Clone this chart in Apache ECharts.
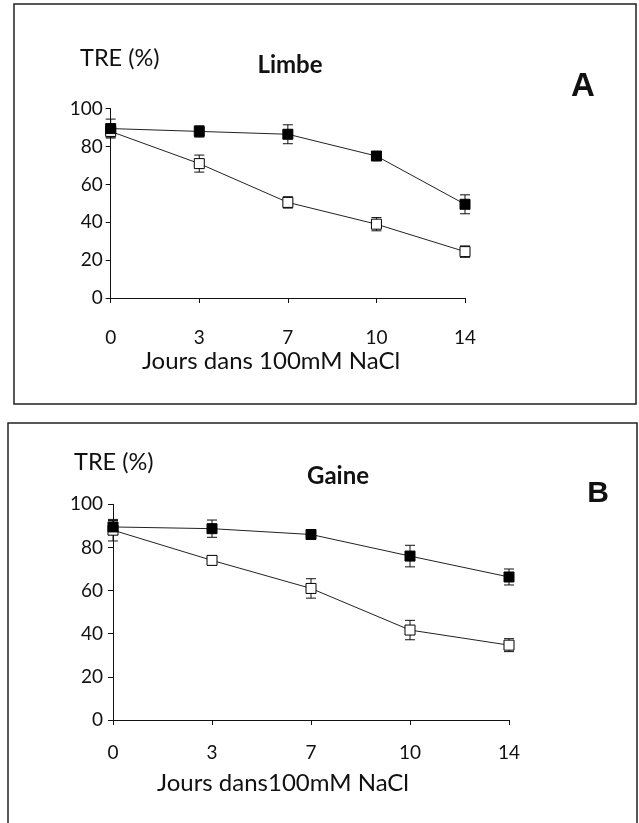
<!DOCTYPE html>
<html>
<head>
<meta charset="utf-8">
<style>
  * { margin: 0; padding: 0; }
  body { background: #ffffff; }
  #chart { width: 639px; height: 823px; }
</style>
</head>
<body>
<div id="chart"></div>
<script src="https://cdn.jsdelivr.net/npm/echarts@6/dist/echarts.min.js"></script>
<script>
// jours de traitement (catégories)
var jours = ['0', '3', '7', '10', '14'];
var yTicks = [0, 20, 40, 60, 80, 100];

// A - Limbe
var limbeNoir = [89.5, 88, 86.5, 75, 49.5];
var limbeNoirErr = [5, 3, 5, 2, 5];
var limbeBlanc = [88, 71, 50.5, 39, 24.5];
var limbeBlancErr = [3, 4.5, 3, 3.5, 3];

// B - Gaine
var gaineNoir = [89.5, 88.7, 86, 76, 66.3];
var gaineNoirErr = [3, 4, 1.5, 5, 3.7];
var gaineBlanc = [88, 74, 61, 41.7, 34.7];
var gaineBlancErr = [5, 2, 4.5, 4.5, 3];

var FONT = 'Lato';
var INK = '#111111';

var chart = echarts.init(document.getElementById('chart'));

// barres d'erreur symétriques
function errData(vals, errs) {
  return vals.map(function (v, i) { return [i, v - errs[i], v + errs[i]]; });
}

function errSeries(idx, vals, errs) {
  return {
    type: 'custom',
    xAxisIndex: idx,
    yAxisIndex: idx,
    z: 1,
    silent: true,
    data: errData(vals, errs),
    renderItem: function (params, api) {
      var lo = api.coord([api.value(0), api.value(1)]);
      var hi = api.coord([api.value(0), api.value(2)]);
      var w = 5;
      var st = { stroke: INK, lineWidth: 1 };
      return {
        type: 'group',
        children: [
          { type: 'line', shape: { x1: lo[0], y1: lo[1], x2: hi[0], y2: hi[1] }, style: st },
          { type: 'line', shape: { x1: lo[0] - w, y1: lo[1], x2: lo[0] + w, y2: lo[1] }, style: st },
          { type: 'line', shape: { x1: hi[0] - w, y1: hi[1], x2: hi[0] + w, y2: hi[1] }, style: st }
        ]
      };
    }
  };
}

function lineSeries(idx, vals, filled) {
  return {
    type: 'line',
    xAxisIndex: idx,
    yAxisIndex: idx,
    z: 3,
    data: vals,
    symbol: 'rect',
    symbolSize: 10,
    showAllSymbol: true,
    lineStyle: { color: '#222222', width: 1 },
    itemStyle: filled
      ? { color: '#000000', borderColor: '#000000', borderWidth: 1 }
      : { color: '#ffffff', borderColor: '#000000', borderWidth: 1 },
    emphasis: { disabled: true },
    animation: false
  };
}

function xAxis(idx, margin) {
  return {
    type: 'category',
    gridIndex: idx,
    data: jours,
    boundaryGap: false,
    axisLine: { lineStyle: { color: INK, width: 1 } },
    axisTick: { show: true, inside: false, length: 5, alignWithLabel: true, lineStyle: { color: INK } },
    axisLabel: { color: INK, fontFamily: FONT, fontSize: 19, margin: margin },
    splitLine: { show: false }
  };
}

function yAxis(idx, margin) {
  return {
    type: 'value',
    gridIndex: idx,
    min: yTicks[0],
    max: yTicks[yTicks.length - 1],
    interval: 20,
    axisLine: { show: true, lineStyle: { color: INK, width: 1 } },
    axisTick: { show: true, inside: false, length: 5, lineStyle: { color: INK } },
    axisLabel: { color: INK, fontFamily: FONT, fontSize: 19, margin: margin },
    splitLine: { show: false }
  };
}

function txt(x, y, s, size, weight, family, align) {
  return {
    type: 'text',
    x: x,
    y: y,
    style: {
      text: s,
      fill: INK,
      font: (weight || 'normal') + ' ' + size + 'px ' + (family || FONT),
      textAlign: align || 'center',
      textVerticalAlign: 'middle'
    },
    z: 10
  };
}

var option = {
  backgroundColor: '#ffffff',
  animation: false,
  grid: [
    { left: 110.7, top: 108.7, width: 354.3, height: 189.3 },
    { left: 113, top: 504.3, width: 396, height: 215.7 }
  ],
  xAxis: [xAxis(0, 30), xAxis(1, 23)],
  yAxis: [yAxis(0, 8), yAxis(1, 10)],
  series: [
    errSeries(0, limbeNoir, limbeNoirErr),
    errSeries(0, limbeBlanc, limbeBlancErr),
    lineSeries(0, limbeBlanc, false),
    lineSeries(0, limbeNoir, true),
    errSeries(1, gaineNoir, gaineNoirErr),
    errSeries(1, gaineBlanc, gaineBlancErr),
    lineSeries(1, gaineBlanc, false),
    lineSeries(1, gaineNoir, true)
  ],
  graphic: [
    // cadres
    { type: 'rect', shape: { x: 14, y: 4, width: 622, height: 400 },
      style: { fill: 'none', stroke: '#222222', lineWidth: 1.5 }, z: 0 },
    { type: 'rect', shape: { x: 8, y: 423, width: 629, height: 410 },
      style: { fill: 'none', stroke: '#222222', lineWidth: 1.5 }, z: 0 },
    // panneau A
    txt(80, 58, 'TRE (%)', 23.5, 'normal', FONT, 'left'),
    txt(290, 65, 'Limbe', 24, 'bold'),
    txt(583, 87, 'A', 33, 'bold', 'Liberation Sans'),
    txt(271, 361, 'Jours dans 100mM NaCl', 24),
    // panneau B
    txt(74, 462, 'TRE (%)', 23.5, 'normal', FONT, 'left'),
    txt(338, 476, 'Gaine', 24, 'bold'),
    txt(598, 494, 'B', 30, 'bold', 'Liberation Sans'),
    txt(283, 783, 'Jours dans100mM NaCl', 24)
  ]
};

chart.setOption(option);
</script>
</body>
</html>
